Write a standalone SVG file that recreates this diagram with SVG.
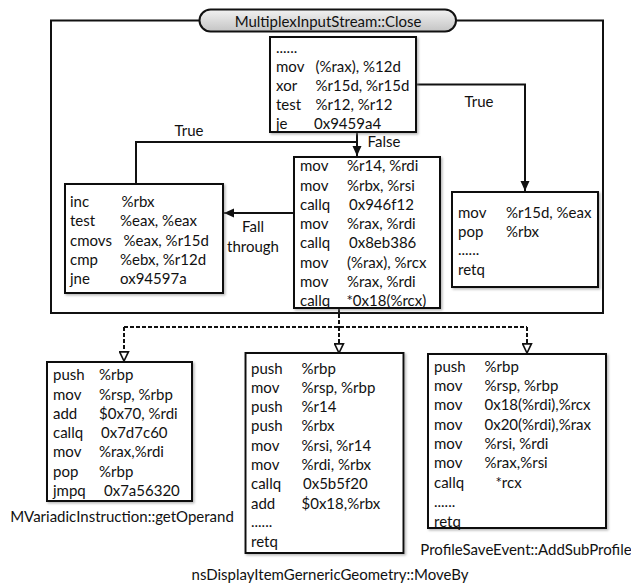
<svg xmlns="http://www.w3.org/2000/svg" width="631" height="583" viewBox="0 0 631 583">
<style>
.bx{fill:#fff;stroke:#111;stroke-width:2;filter:url(#sh)}
.t{font-family:Lato,"Open Sans",sans-serif;font-size:15px;fill:#111;dominant-baseline:central}
.lb{font-family:Lato,"Open Sans",sans-serif;font-size:15px;fill:#111;dominant-baseline:central;text-anchor:middle}
.ln{fill:none;stroke:#111;stroke-width:2}
.ds{fill:none;stroke:#111;stroke-width:2;stroke-dasharray:4 2}
</style>
<defs>
<filter id="sh" x="-10%" y="-10%" width="120%" height="120%">
<feDropShadow dx="1.5" dy="1.5" stdDeviation="1.2" flood-color="#888" flood-opacity="0.6"/>
</filter>
<linearGradient id="pg" x1="0" y1="0" x2="0" y2="1">
<stop offset="0" stop-color="#f2f2f2"/>
<stop offset="1" stop-color="#c4c4c4"/>
</linearGradient>
<marker id="ar" viewBox="0 0 10 10" refX="10" refY="5" markerWidth="10" markerHeight="10" markerUnits="userSpaceOnUse" orient="auto">
<path d="M0,0.5 L10,5 L0,9.5 z" fill="#111"/>
</marker>
<marker id="ho" viewBox="0 0 12 12" refX="11" refY="6" markerWidth="11" markerHeight="11" markerUnits="userSpaceOnUse" orient="auto">
<path d="M1,1.2 L11,6 L1,10.8 z" fill="#fff" stroke="#111" stroke-width="1.8"/>
</marker>
</defs>

<g id="frame">
<rect x="51" y="20.5" width="552" height="292.5" fill="none" stroke="#111" stroke-width="2"/>
<rect x="199.5" y="9.5" width="256.5" height="22" rx="11" ry="11" fill="url(#pg)" stroke="#111" stroke-width="2"/>
<text class="lb" x="328" y="20.5">MultiplexInputStream::Close</text>
</g>

<g id="connectors">
<path class="ln" d="M357,132 V156" marker-end="url(#ar)"/>
<path class="ln" d="M357,142 H136 V184"/>
<path class="ln" d="M416,84.5 H525 V191" marker-end="url(#ar)"/>
<path class="ln" d="M294,213 H224" marker-end="url(#ar)"/>
<path class="ds" d="M339,308 V327 M124,327 H527"/>
<path class="ds" d="M124,327 V361" marker-end="url(#ho)"/>
<path class="ds" d="M339,327 V353" marker-end="url(#ho)"/>
<path class="ds" d="M527,327 V353" marker-end="url(#ho)"/>
<text class="lb" x="479" y="101">True</text>
<text class="lb" x="189" y="130">True</text>
<text class="lb" x="384" y="141">False</text>
<text class="lb" x="253" y="226">Fall</text>
<text class="lb" x="253" y="246">through</text>
</g>

<g id="top-block">
<rect class="bx" x="270" y="37" width="146" height="95"/>
<text class="t" x="276" y="47">......</text>
<text class="t" x="276" y="66">mov<tspan x="315.5">(%rax), %12d</tspan></text>
<text class="t" x="276" y="85">xor<tspan x="315.5">%r15d, %r15d</tspan></text>
<text class="t" x="276" y="104">test<tspan x="315.5">%r12, %r12</tspan></text>
<text class="t" x="276" y="123">je<tspan x="314">0x9459a4</tspan></text>
</g>

<g id="loop-block">
<rect class="bx" x="65" y="184" width="158" height="109"/>
<text class="t" x="70" y="201">inc<tspan x="121.5">%rbx</tspan></text>
<text class="t" x="70" y="220">test<tspan x="120">%eax, %eax</tspan></text>
<text class="t" x="70" y="239.5">cmovs<tspan x="123.5">%eax, %r15d</tspan></text>
<text class="t" x="70" y="258.5">cmp<tspan x="120">%ebx, %r12d</tspan></text>
<text class="t" x="70" y="278">jne<tspan x="120">ox94597a</tspan></text>
</g>

<g id="call-block">
<rect class="bx" x="294" y="157" width="146" height="151"/>
<text class="t" x="300" y="165">mov<tspan x="347">%r14, %rdi</tspan></text>
<text class="t" x="300" y="184.5">mov<tspan x="347">%rbx, %rsi</tspan></text>
<text class="t" x="300" y="203.5">callq<tspan x="349">0x946f12</tspan></text>
<text class="t" x="300" y="223">mov<tspan x="347">%rax, %rdi</tspan></text>
<text class="t" x="300" y="242">callq<tspan x="349">0x8eb386</tspan></text>
<text class="t" x="300" y="261.5">mov<tspan x="347">(%rax), %rcx</tspan></text>
<text class="t" x="300" y="281">mov<tspan x="347">%rax, %rdi</tspan></text>
<text class="t" x="300" y="300">callq<tspan x="346.5">*0x18(%rcx)</tspan></text>
</g>

<g id="exit-block">
<rect class="bx" x="452" y="192" width="146" height="95"/>
<text class="t" x="458" y="211.5">mov<tspan x="506">%r15d, %eax</tspan></text>
<text class="t" x="458" y="231">pop<tspan x="506">%rbx</tspan></text>
<text class="t" x="458" y="249">......</text>
<text class="t" x="458" y="269">retq</text>
</g>

<g id="getOperand">
<rect class="bx" x="47" y="362" width="145" height="139"/>
<text class="t" x="53" y="374">push<tspan x="99">%rbp</tspan></text>
<text class="t" x="53" y="393.5">mov<tspan x="99">%rsp, %rbp</tspan></text>
<text class="t" x="53" y="412.5">add<tspan x="99">$0x70, %rdi</tspan></text>
<text class="t" x="53" y="432">callq<tspan x="101">0x7d7c60</tspan></text>
<text class="t" x="53" y="451">mov<tspan x="99">%rax,%rdi</tspan></text>
<text class="t" x="53" y="470.5">pop<tspan x="99">%rbp</tspan></text>
<text class="t" x="53" y="490">jmpq<tspan x="104">0x7a56320</tspan></text>
<text class="lb" x="122" y="516">MVariadicInstruction::getOperand</text>
</g>

<g id="moveBy">
<rect class="bx" x="245.5" y="353" width="158" height="200"/>
<text class="t" x="251" y="367.5">push<tspan x="301.5">%rbp</tspan></text>
<text class="t" x="251" y="387">mov<tspan x="301.5">%rsp, %rbp</tspan></text>
<text class="t" x="251" y="406">push<tspan x="301.5">%r14</tspan></text>
<text class="t" x="251" y="425">push<tspan x="301.5">%rbx</tspan></text>
<text class="t" x="251" y="444.5">mov<tspan x="301.5">%rsi, %r14</tspan></text>
<text class="t" x="251" y="464">mov<tspan x="301.5">%rdi, %rbx</tspan></text>
<text class="t" x="251" y="483">callq<tspan x="303">0x5b5f20</tspan></text>
<text class="t" x="251" y="502.5">add<tspan x="301.5">$0x18,%rbx</tspan></text>
<text class="t" x="251" y="521">......</text>
<text class="t" x="251" y="541">retq</text>
<text class="lb" x="330" y="574">nsDisplayItemGernericGeometry::MoveBy</text>
</g>

<g id="addSubProfile">
<rect class="bx" x="428" y="354" width="178" height="174"/>
<text class="t" x="434" y="365.5">push<tspan x="484.5">%rbp</tspan></text>
<text class="t" x="434" y="385">mov<tspan x="484.5">%rsp, %rbp</tspan></text>
<text class="t" x="434" y="404">mov<tspan x="484.5">0x18(%rdi),%rcx</tspan></text>
<text class="t" x="434" y="423.5">mov<tspan x="484.5">0x20(%rdi),%rax</tspan></text>
<text class="t" x="434" y="443">mov<tspan x="484.5">%rsi, %rdi</tspan></text>
<text class="t" x="434" y="462">mov<tspan x="484.5">%rax,%rsi</tspan></text>
<text class="t" x="434" y="482">callq<tspan x="495.5">*rcx</tspan></text>
<text class="t" x="434" y="501">......</text>
<text class="t" x="434" y="520.5">retq</text>
<text class="lb" x="526" y="548.5">ProfileSaveEvent::AddSubProfile</text>
</g>
</svg>
